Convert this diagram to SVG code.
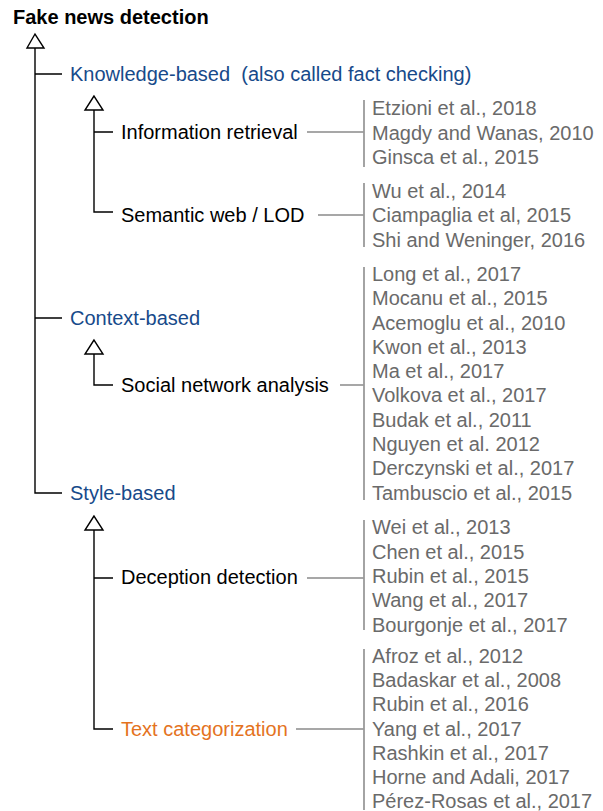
<svg xmlns="http://www.w3.org/2000/svg" width="603" height="811" viewBox="0 0 603 811">
<style>
text{font-family:"Liberation Sans",Arial,Helvetica,sans-serif;font-size:20px}
.title{font-weight:bold;fill:#000}
.cat{fill:#174a8a}
.sub{fill:#000}
.hl{fill:#e4731e}
.cite{fill:#6a6a6a}
.tree{stroke:#000;stroke-width:1.4;fill:none}
.tri{stroke:#000;stroke-width:1.4;fill:#fff}
.gline{stroke:#8a8a8a;stroke-width:1.4;fill:none}
.bar{stroke:#9a9a9a;stroke-width:1.8;fill:none}
</style>
<rect width="603" height="811" fill="#fff"/>
<g id="connectors">
<path class="tree" d="M35 48V493H62M35 74H62M35 318H62"/>
<polygon class="tri" points="35,34 27,48 44,48"/>
<path class="tree" d="M94 110V212H113M94 132H113"/>
<polygon class="tri" points="94,96 85,110 103,110"/>
<path class="tree" d="M94 354V385H113"/>
<polygon class="tri" points="94,340 85,354 103,354"/>
<path class="tree" d="M94 530V729H113M94 578H113"/>
<polygon class="tri" points="94,516 85,530 103,530"/>
<path class="gline" d="M307 132H364M318 215H364M340 385H364M307 578H364M296 729H364"/>
</g>
<g id="root"><text class="title" x="13" y="24">Fake news detection</text></g>
<g id="knowledge"><text class="cat" x="70" y="81" xml:space="preserve">Knowledge-based  (also called fact checking)</text></g>
<g id="context"><text class="cat" x="70" y="325">Context-based</text></g>
<g id="style"><text class="cat" x="70" y="500">Style-based</text></g>
<g id="info-retrieval"><text class="sub" x="121" y="139">Information retrieval</text></g>
<g id="semantic-web"><text class="sub" x="121" y="222">Semantic web / LOD</text></g>
<g id="social-network"><text class="sub" x="121" y="392">Social network analysis</text></g>
<g id="deception"><text class="sub" x="121" y="584">Deception detection</text></g>
<g id="text-cat"><text class="hl" x="121" y="736">Text categorization</text></g>
<g id="cites-ir">
<line class="bar" x1="364" y1="100" x2="364" y2="167"/>
<text class="cite" x="372" y="115">Etzioni et al., 2018</text>
<text class="cite" x="372" y="140">Magdy and Wanas, 2010</text>
<text class="cite" x="372" y="164">Ginsca et al., 2015</text>
</g>
<g id="cites-sw">
<line class="bar" x1="364" y1="183" x2="364" y2="247"/>
<text class="cite" x="372" y="198">Wu et al., 2014</text>
<text class="cite" x="372" y="222">Ciampaglia et al, 2015</text>
<text class="cite" x="372" y="247">Shi and Weninger, 2016</text>
</g>
<g id="cites-sna">
<line class="bar" x1="364" y1="267" x2="364" y2="500"/>
<text class="cite" x="372" y="281">Long et al., 2017</text>
<text class="cite" x="372" y="305">Mocanu et al., 2015</text>
<text class="cite" x="372" y="330">Acemoglu et al., 2010</text>
<text class="cite" x="372" y="354">Kwon et al., 2013</text>
<text class="cite" x="372" y="378">Ma et al., 2017</text>
<text class="cite" x="372" y="402">Volkova et al., 2017</text>
<text class="cite" x="372" y="427">Budak et al., 2011</text>
<text class="cite" x="372" y="451">Nguyen et al. 2012</text>
<text class="cite" x="372" y="475">Derczynski et al., 2017</text>
<text class="cite" x="372" y="500">Tambuscio et al., 2015</text>
</g>
<g id="cites-dd">
<line class="bar" x1="364" y1="520" x2="364" y2="630"/>
<text class="cite" x="372" y="534">Wei et al., 2013</text>
<text class="cite" x="372" y="559">Chen et al., 2015</text>
<text class="cite" x="372" y="583">Rubin et al., 2015</text>
<text class="cite" x="372" y="607">Wang et al., 2017</text>
<text class="cite" x="372" y="632">Bourgonje et al., 2017</text>
</g>
<g id="cites-tc">
<line class="bar" x1="364" y1="649" x2="364" y2="810"/>
<text class="cite" x="372" y="663">Afroz et al., 2012</text>
<text class="cite" x="372" y="687">Badaskar et al., 2008</text>
<text class="cite" x="372" y="711">Rubin et al., 2016</text>
<text class="cite" x="372" y="736">Yang et al., 2017</text>
<text class="cite" x="372" y="760">Rashkin et al., 2017</text>
<text class="cite" x="372" y="784">Horne and Adali, 2017</text>
<text class="cite" x="372" y="808">Pérez-Rosas et al., 2017</text>
</g>
</svg>
